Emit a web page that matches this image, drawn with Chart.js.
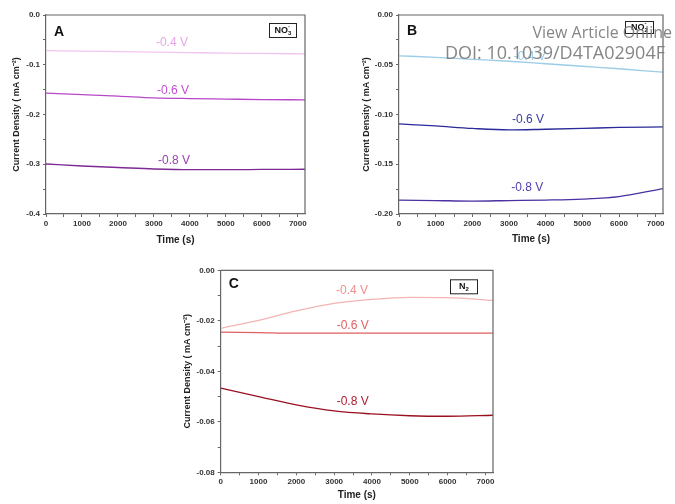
<!DOCTYPE html>
<html><head><meta charset="utf-8">
<script src="https://cdn.jsdelivr.net/npm/chart.js@4/dist/chart.umd.min.js"></script>
<style>
html,body{margin:0;padding:0;background:#fff;}
body{width:675px;height:504px;position:relative;overflow:hidden;}
canvas{position:absolute;}
.wm{position:absolute;color:rgba(120,120,120,0.9);font-family:"Open Sans",sans-serif;white-space:nowrap;line-height:1;text-align:right;}
</style></head><body>
<canvas id="cA" width="340" height="250" style="left:0;top:0"></canvas>
<canvas id="cB" width="335" height="250" style="left:340px;top:0"></canvas>
<canvas id="cC" width="340" height="249" style="left:170px;top:255px"></canvas>
<div class="wm" style="right:3px;top:24px;font-size:16px">View Article Online</div>
<div class="wm" style="right:10px;top:43px;font-size:18px">DOI: 10.1039/D4TA02904F</div>
<script>
// ---- data ----
const times = [0, 1000, 2000, 3000, 4000, 5000, 6000, 7200];
const voltages = ['-0.4 V', '-0.6 V', '-0.8 V'];
// tick values (major + minor)
const timeTicks = [0, 500, 1000, 1500, 2000, 2500, 3000, 3500, 4000, 4500, 5000, 5500, 6000, 6500, 7000];
const yTicksA = [0, -0.05, -0.1, -0.15, -0.2, -0.25, -0.3, -0.35, -0.4];
const yTicksB = [0, -0.025, -0.05, -0.075, -0.1, -0.125, -0.15, -0.175, -0.2];
const yTicksC = [0, -0.01, -0.02, -0.03, -0.04, -0.05, -0.06, -0.07, -0.08];
// Panel A: NO3-
const nitrate04 = [-0.0717, -0.0725, -0.0735, -0.0745, -0.0755, -0.0765, -0.0773, -0.0782];
const nitrate06 = [-0.157, -0.160, -0.163, -0.1665, -0.168, -0.169, -0.170, -0.1705];
const nitrate08 = [-0.2995, -0.3035, -0.3065, -0.3095, -0.311, -0.311, -0.3105, -0.310];
// Panel B: NO2-
const nitrite04 = [-0.041, -0.0425, -0.0445, -0.0465, -0.049, -0.0515, -0.054, -0.0575];
const nitrite06 = [-0.1094, -0.1115, -0.114, -0.1155, -0.1148, -0.114, -0.113, -0.1125];
const nitrite08 = [-0.186, -0.1865, -0.187, -0.1865, -0.186, -0.185, -0.1825, -0.1745];
// Panel C: N2
const nitrogen04 = [-0.0230, -0.0198, -0.0161, -0.0131, -0.0115, -0.0107, -0.0108, -0.0119];
const nitrogen06 = [-0.0245, -0.0247, -0.0249, -0.0249, -0.0249, -0.0249, -0.0249, -0.0249];
const nitrogen08 = [-0.0467, -0.0500, -0.0533, -0.0557, -0.0569, -0.0576, -0.0578, -0.0574];

const FONT = '"Liberation Sans", Arial, sans-serif';

const decor = {
  id: 'decor',
  afterDraw(chart, args, o) {
    const ctx = chart.ctx, a = chart.chartArea;
    ctx.save();
    ctx.strokeStyle = '#666'; ctx.lineWidth = 1.2;
    ctx.beginPath();
    ctx.moveTo(a.left, a.top); ctx.lineTo(a.right, a.top); ctx.lineTo(a.right, a.bottom);
    ctx.stroke();
    ctx.fillStyle = '#111';
    ctx.font = 'bold 14px ' + FONT;
    ctx.textAlign = 'left'; ctx.textBaseline = 'middle';
    ctx.fillText(o.letter, a.left + o.letterDx, a.top + o.letterDy);
    const b = o.box;
    const bx = a.right - b.dx - b.w, by = a.top + b.dy;
    ctx.lineWidth = 1; ctx.strokeStyle = '#222';
    ctx.strokeRect(bx + 0.5, by + 0.5, b.w, b.h);
    ctx.font = 'bold 9px ' + FONT;
    const mainW = ctx.measureText(o.formula[0]).width;
    ctx.font = 'bold 6px ' + FONT;
    const subW = Math.max(ctx.measureText(o.formula[1]).width, ctx.measureText(o.formula[2]).width);
    const tx = bx + (b.w - mainW - subW) / 2 + 0.5;
    const cy = by + b.h / 2 + 0.5;
    ctx.font = 'bold 9px ' + FONT; ctx.textBaseline = 'middle';
    ctx.fillText(o.formula[0], tx, cy);
    ctx.font = 'bold 6px ' + FONT;
    ctx.fillText(o.formula[1], tx + mainW, cy + 3);
    ctx.fillText(o.formula[2], tx + mainW, cy - 4);
    ctx.font = '12px ' + FONT; ctx.textAlign = 'center';
    o.labels.forEach((l, i) => {
      ctx.fillStyle = o.labelColors[i];
      ctx.fillText(voltages[i], chart.scales.x.getPixelForValue(l[0]), chart.scales.y.getPixelForValue(l[1]));
    });
    ctx.restore();
  }
};

function makeChart(id, c) {
  const isMajor = (v, m) => Math.abs(v / m - Math.round(v / m)) < 1e-6;
  new Chart(document.getElementById(id), {
    type: 'line',
    data: {
      datasets: c.series.map((s, i) => ({
        label: voltages[i],
        data: times.map((t, j) => ({x: t, y: s[j]})),
        borderColor: c.colors[i], borderWidth: 1.3, pointRadius: 0,
        cubicInterpolationMode: 'monotone', fill: false
      }))
    },
    options: {
      responsive: false, animation: false, devicePixelRatio: 1,
      layout: {padding: c.padding},
      plugins: {legend: {display: false}, tooltip: {enabled: false}, decor: c.decor},
      scales: {
        x: {
          type: 'linear', min: 0, max: 7200,
          afterBuildTicks(s) { s.ticks = timeTicks.map(v => ({value: v})); },
          afterFit(s) { s.height = c.xH; s.paddingLeft = 0; s.paddingRight = 0; },
          ticks: {autoSkip: false, maxRotation: 0, minRotation: 0, padding: c.xTickPad, color: '#333',
            font: {family: FONT, size: 8, weight: 'bold'},
            callback: v => isMajor(v, 1000) ? String(Math.round(v)) : ''},
          grid: {drawOnChartArea: false, drawTicks: true, tickLength: 3, tickColor: '#666', tickWidth: 1},
          border: {color: '#666', width: 1.2},
          title: {display: true, text: 'Time (s)', color: '#222',
            font: {family: FONT, size: 10, weight: 'bold'}, padding: {top: 0, bottom: c.xTitlePad}}
        },
        y: {
          type: 'linear', min: c.yMin, max: 0,
          afterBuildTicks(s) { s.ticks = c.yTicks.map(v => ({value: v})); },
          afterFit(s) { s.width = c.yW; s.paddingTop = 0; s.paddingBottom = 0; },
          ticks: {autoSkip: false, padding: 3, color: '#333',
            font: {family: FONT, size: 8, weight: 'bold'},
            callback: v => isMajor(v, c.yMajor) ? (Math.round(v / c.yMajor) * c.yMajor).toFixed(c.dec) : ''},
          grid: {drawOnChartArea: false, drawTicks: true, tickLength: 3, tickColor: '#666', tickWidth: 1},
          border: {color: '#666', width: 1.2},
          title: {display: true, text: 'Current Density ( mA cm\u207B\u00B2)', color: '#222',
            font: {family: FONT, size: 9, weight: 'bold'}, padding: {top: c.yTitlePad, bottom: 0}}
        }
      }
    },
    plugins: [decor]
  });
}

makeChart('cA', {
  series: [nitrate04, nitrate06, nitrate08],
  colors: ['#f0c4f0', '#b848c8', '#7e2a94'],
  padding: {left: 0, top: 15, right: 35, bottom: 0},
  xH: 36, yW: 46, xTickPad: 2.2, xTitlePad: 4, yTitlePad: 11.6,
  yMin: -0.4, yTicks: yTicksA, yMajor: 0.1, dec: 1,
  decor: {letter: 'A', letterDx: 8, letterDy: 17,
    box: {dx: 9, dy: 8, w: 27, h: 14}, formula: ['NO', '3', '-'],
    labels: [[3500, -0.0563], [3530, -0.1528], [3558, -0.2935]],
    labelColors: ['#e6a6e6', '#c050d0', '#9a40b4']}
});
makeChart('cB', {
  series: [nitrite04, nitrite06, nitrite08],
  colors: ['#9ccce8', '#2a2a9a', '#4a30a0'],
  padding: {left: 0, top: 15, right: 12, bottom: 0},
  xH: 36, yW: 59, xTickPad: 2.2, xTitlePad: 4.7, yTitlePad: 21.3,
  yMin: -0.2, yTicks: yTicksB, yMajor: 0.05, dec: 2,
  decor: {letter: 'B', letterDx: 8, letterDy: 16,
    box: {dx: 10, dy: 6, w: 28, h: 12}, formula: ['NO', '2', '-'],
    labels: [[3568, -0.042], [3521, -0.1054], [3495, -0.1731]],
    labelColors: ['#9ccce8', '#3a3aa8', '#5040b0']}
});
makeChart('cC', {
  series: [nitrogen04, nitrogen06, nitrogen08],
  colors: ['#f4b4b4', '#e06060', '#9a1020'],
  padding: {left: 0, top: 15.3, right: 17, bottom: 0},
  xH: 31.7, yW: 50.7, xTickPad: 1.6, xTitlePad: 3, yTitlePad: 12,
  yMin: -0.08, yTicks: yTicksC, yMajor: 0.02, dec: 2,
  decor: {letter: 'C', letterDx: 8, letterDy: 14,
    box: {dx: 16, dy: 9, w: 27, h: 14}, formula: ['N', '2', ''],
    labels: [[3472, -0.0082], [3490, -0.0219], [3490, -0.052]],
    labelColors: ['#f09090', '#e06060', '#b02030']}
});
</script>
</body></html>
